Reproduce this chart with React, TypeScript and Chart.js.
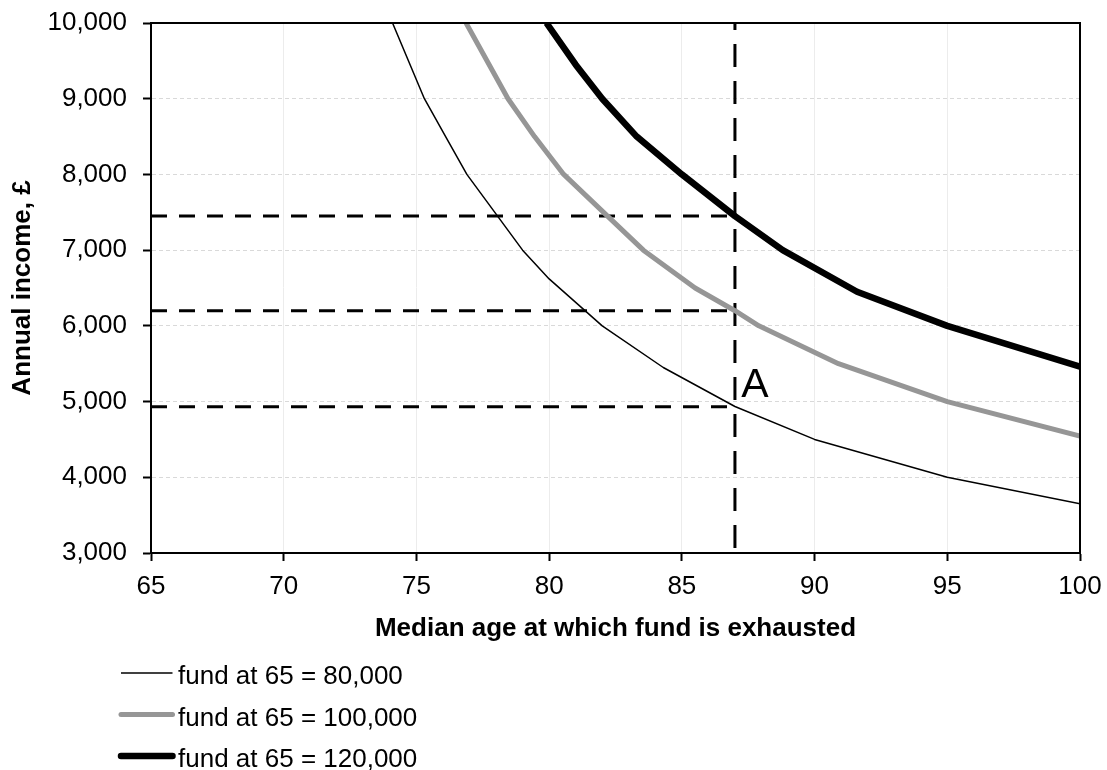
import { useEffect, useRef } from 'react';
import { Chart, registerables } from 'chart.js';

Chart.register(...registerables);

// ---- data ----
const ages80 = [74.1, 75.3, 76.1, 76.9, 79.0, 80.0, 82.0, 84.3, 87.0, 90.0, 95.0, 100];
const income80 = [10000, 9000, 8500, 8000, 7000, 6620, 6000, 5450, 4935, 4500, 4000, 3650];

const ages100 = [76.87, 78.45, 79.45, 80.55, 82.2, 83.55, 85.5, 87.0, 87.9, 90.9, 95.0, 100];
const income100 = [10000, 9000, 8500, 8000, 7450, 7000, 6500, 6200, 6000, 5500, 5000, 4545];

const ages120 = [79.9, 81.0, 82.0, 83.3, 85.0, 87.0, 88.8, 91.6, 95.0, 100];
const income120 = [10000, 9450, 9000, 8500, 8000, 7450, 7000, 6450, 6000, 5460];

const seriesLabels = ['fund at 65 = 80,000', 'fund at 65 = 100,000', 'fund at 65 = 120,000'];
const seriesColors = ['#000000', '#969696', '#000000'];
const seriesWidths = [1.5, 5, 6.5];

const refAge = 87;
const refIncomes = [7450, 6200, 4930];

const xMin = 65;
const xMax = 100;
const xStep = 5;
const yMin = 3000;
const yMax = 10000;
const yStep = 1000;

const annotText = 'A';
const annotX = 87.75;
const annotY = 5065;

const xTitle = 'Median age at which fund is exhausted';
const yTitle = 'Annual income, £';

const FONT = '"Liberation Sans", Arial, Helvetica, sans-serif';

const toPoints = (xs: number[], ys: number[]) => xs.map((x, i) => ({ x, y: ys[i] }));

const overlayPlugin = {
  id: 'overlay',
  afterDraw(chart: any) {
    const { ctx, chartArea: a, scales } = chart;
    ctx.save();
    // top/right frame
    ctx.strokeStyle = '#000';
    ctx.lineWidth = 2;
    ctx.beginPath();
    ctx.moveTo(a.left, a.top);
    ctx.lineTo(a.right, a.top);
    ctx.lineTo(a.right, a.bottom);
    ctx.stroke();

    // annotation "A"
    ctx.fillStyle = '#000';
    ctx.font = `41px ${FONT}`;
    ctx.textAlign = 'center';
    ctx.textBaseline = 'alphabetic';
    ctx.fillText(annotText, scales.x.getPixelForValue(annotX), scales.y.getPixelForValue(annotY));

    // legend (vertical list, bottom-left)
    const items = chart.data.datasets.filter((d: any) => d.label);
    items.forEach((d: any, i: number) => {
      const ty = 677 + i * 41.5;
      const ly = ty - 4;
      ctx.strokeStyle = d.borderColor;
      ctx.lineWidth = d.borderWidth;
      ctx.lineCap = d.borderWidth > 2 ? 'round' : 'butt';
      ctx.beginPath();
      ctx.moveTo(121, ly);
      ctx.lineTo(172.5, ly);
      ctx.stroke();
      ctx.fillStyle = '#000';
      ctx.font = `26px ${FONT}`;
      ctx.textAlign = 'left';
      ctx.textBaseline = 'middle';
      ctx.fillText(d.label, 178, ty);
    });
    ctx.restore();
  },
};

export default function App() {
  const ref = useRef<HTMLCanvasElement | null>(null);

  useEffect(() => {
    document.body.style.margin = '0';
    const canvas = ref.current;
    if (!canvas) return;
    Chart.defaults.color = '#000';
    Chart.defaults.font.family = FONT;

    const curves = [
      toPoints(ages80, income80),
      toPoints(ages100, income100),
      toPoints(ages120, income120),
    ].map((data, i) => ({
      label: seriesLabels[i],
      data,
      showLine: true,
      borderColor: seriesColors[i],
      backgroundColor: seriesColors[i],
      borderWidth: seriesWidths[i],
      pointRadius: 0,
      pointHoverRadius: 0,
      tension: 0,
      borderJoinStyle: 'round' as const,
      borderCapStyle: 'butt' as const,
      fill: false,
    }));

    const refLines = [
      ...refIncomes.map((v) => ({
        label: '',
        data: [
          { x: xMin, y: v },
          { x: refAge, y: v },
        ],
        showLine: true,
        borderColor: '#000',
        borderWidth: 3,
        borderDash: [16, 12],
        pointRadius: 0,
        pointHoverRadius: 0,
        fill: false,
      })),
      {
        label: '',
        data: [
          { x: refAge, y: yMax },
          { x: refAge, y: yMin },
        ],
        showLine: true,
        borderColor: '#000',
        borderWidth: 3,
        borderDash: [23, 14],
        borderDashOffset: 16,
        pointRadius: 0,
        pointHoverRadius: 0,
        fill: false,
      },
    ];

    const chart = new Chart(canvas, {
      type: 'scatter',
      data: { datasets: [...curves, ...refLines] as any },
      options: {
        responsive: false,
        animation: false,
        events: [],
        layout: { padding: { top: 23, right: 27, left: 0, bottom: 120 } },
        plugins: {
          legend: { display: false },
          tooltip: { enabled: false },
        },
        scales: {
          x: {
            type: 'linear',
            min: xMin,
            max: xMax,
            afterFit: (s: any) => {
              s.height = 97;
              s.paddingLeft = 0;
              s.paddingRight = 0;
            },
            ticks: {
              stepSize: xStep,
              padding: 10,
              font: { size: 26 },
              color: '#000',
              maxRotation: 0,
            },
            grid: {
              color: '#ececec',
              lineWidth: 1,
              tickColor: '#000',
              tickLength: 8,
              tickWidth: 2,
            },
            border: { color: '#000', width: 2 },
            title: {
              display: true,
              text: xTitle,
              font: { size: 26, weight: 'bold' },
              color: '#000',
              padding: { top: 0, bottom: 6 },
            },
          },
          y: {
            type: 'linear',
            min: yMin,
            max: yMax,
            afterFit: (s: any) => {
              s.width = 151;
              s.paddingTop = 0;
              s.paddingBottom = 0;
            },
            ticks: {
              stepSize: yStep,
              padding: 16,
              font: { size: 26 },
              color: '#000',
              callback: (v: any) => Number(v).toLocaleString('en-US'),
            },
            grid: {
              color: '#d9d9d9',
              lineWidth: 1,
              tickColor: '#000',
              tickLength: 8,
              tickWidth: 2,
            },
            border: { color: '#000', width: 2, dash: [4, 3] },
            title: {
              display: true,
              text: yTitle,
              font: { size: 26, weight: 'bold' },
              color: '#000',
              padding: { top: 7, bottom: 0 },
            },
          },
        },
      },
      plugins: [overlayPlugin],
    });

    return () => chart.destroy();
  }, []);

  return (
    <div style={{ width: 1107, height: 770, background: '#fff' }}>
      <canvas ref={ref} width={1107} height={770} style={{ display: 'block' }} />
    </div>
  );
}
